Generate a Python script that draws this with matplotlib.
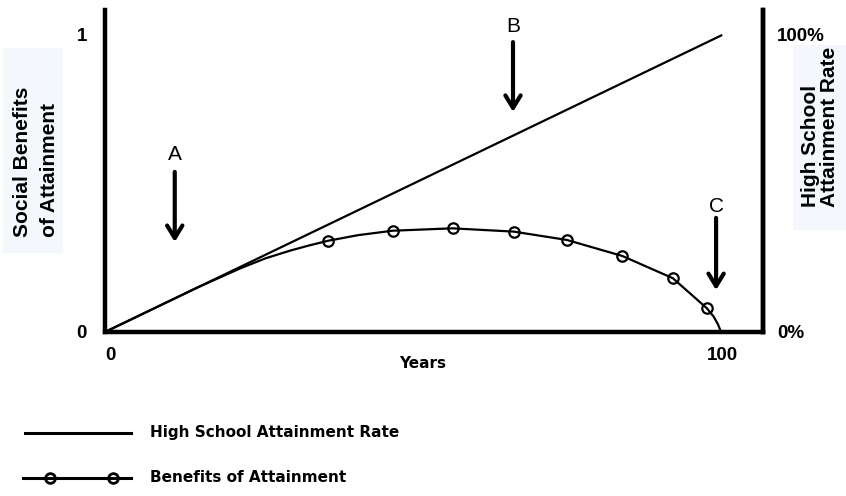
import matplotlib
matplotlib.use("Agg")
import matplotlib.pyplot as plt
from matplotlib.lines import Line2D
from matplotlib.patches import Rectangle
import matplotlib.transforms as mtransforms

# ---- data ----
rate_years = [0, 100]
rate_values = [0.0, 1.0]

benefit_years = [0, 15, 22, 26, 30, 33, 36.1, 41, 46.6, 56.3, 66.2, 74.8, 83.8,
                 92.0, 97.5, 98.6, 99.3, 99.8]
benefit_values = [0.0, 0.15, 0.215, 0.248, 0.274, 0.291, 0.307, 0.326, 0.341, 0.349,
                  0.338, 0.310, 0.256, 0.181, 0.080, 0.052, 0.026, 0.0]

marker_years = [36.1, 46.6, 56.3, 66.2, 74.8, 83.8, 92.0, 97.5]
marker_values = [0.307, 0.341, 0.349, 0.338, 0.310, 0.256, 0.181, 0.080]

x_ticks = [0, 100]
x_tick_labels = ["0", "100"]
left_ticks = [0, 1]
left_tick_labels = ["0", "1"]
right_tick_labels = ["0%", "100%"]

arrow_labels = ["A", "B", "C"]
arrow_x = [11.3, 66.1, 99.0]
arrow_top = [0.539, 0.976, 0.384]
arrow_tip = [0.303, 0.741, 0.141]
label_y = [0.596, 1.027, 0.421]

legend_labels = ["High School Attainment Rate", "Benefits of Attainment"]

# ---- figure ----
W, H = 846, 496
fig = plt.figure(figsize=(W / 100, H / 100), dpi=100)
fig.patch.set_facecolor("white")

# overlay for backgrounds & legend (pixel coordinates)
lax = fig.add_axes([0, 0, 1, 1], zorder=0)
lax.set_xlim(0, W)
lax.set_ylim(H, 0)
lax.axis("off")
lax.add_patch(Rectangle((3, 48), 60, 205, facecolor="#f4f8fc", edgecolor="none"))
lax.add_patch(Rectangle((793, 45), 53, 185, facecolor="#f4f8fc", edgecolor="none"))

ax = fig.add_axes([105 / W, 1 - 332 / H, (763 - 105) / W, (332 - 10) / H], zorder=1)
ax.patch.set_alpha(0)
ax.set_xlim(0, 106.6)
ax.set_ylim(0, 1.084)

ax.plot(rate_years, rate_values, color="black", lw=1.6, solid_capstyle="butt")
ax.plot(benefit_years, benefit_values, color="black", lw=1.6)
ax.plot(marker_years, marker_values, ls="none", marker="o", ms=7.5,
        mfc="none", mec="black", mew=1.6)

for s in ["left", "bottom", "right"]:
    ax.spines[s].set_linewidth(3.2)
ax.spines["top"].set_visible(False)

bold = dict(family="Liberation Sans", weight="bold", size=13.5)

ax.set_xticks(x_ticks)
ax.set_xticklabels(x_tick_labels, **bold)
ax.set_yticks(left_ticks)
ax.set_yticklabels(left_tick_labels, **bold)
ax.tick_params(axis="both", length=0)
ax.tick_params(axis="x", pad=11)
ax.tick_params(axis="y", pad=13)
# first x tick label sits slightly right of the origin
first = ax.get_xticklabels()[0]
first.set_transform(first.get_transform() +
                    mtransforms.ScaledTranslation(5 / 100, 0, fig.dpi_scale_trans))

ax2 = ax.twinx()
ax2.set_ylim(ax.get_ylim())
ax2.set_yticks(left_ticks)
ax2.set_yticklabels(right_tick_labels, **bold)
ax2.tick_params(axis="y", length=0, pad=10)
for s in ["top", "left", "bottom"]:
    ax2.spines[s].set_visible(False)
ax2.spines["right"].set_linewidth(3.2)

ax.set_xlabel("Years", family="DejaVu Sans", weight="bold", size=11)
ax.xaxis.set_label_coords((423 - 105) / (763 - 105), -(363 - 332) / (332 - 10))
ax.xaxis.label.set_va("center")

for lab, x, yt, yb, yl in zip(arrow_labels, arrow_x, arrow_top, arrow_tip, label_y):
    ax.annotate("", xy=(x, yb), xytext=(x, yt),
                arrowprops=dict(arrowstyle="->,head_length=0.9,head_width=0.55",
                                lw=3, color="black", shrinkA=0, shrinkB=0))
    ax.text(x, yl, lab, ha="center", va="center", family="Liberation Sans",
            size=15, color="black")

# y labels
fig.text(36 / W, 1 - 237 / H, "Social Benefits\nof Attainment", rotation=90,
         ha="center", va="bottom", ma="left", linespacing=1.55,
         family="Liberation Sans", weight="bold", size=15)
fig.text(820 / W, 1 - 207 / H, "High School\nAttainment Rate", rotation=90,
         ha="center", va="bottom", ma="left", linespacing=0.95,
         family="Liberation Sans", weight="bold", size=15)

# ---- legend (manual) ----
lax2 = fig.add_axes([0, 0, 1, 1], zorder=2)
lax2.set_xlim(0, W)
lax2.set_ylim(H, 0)
lax2.axis("off")
lax2.add_line(Line2D([25, 131], [433, 433], color="black", lw=2.2))
lax2.add_line(Line2D([23, 131], [478, 478], color="black", lw=2.2))
lax2.add_line(Line2D([50, 113], [478, 478], ls="none", marker="o", ms=7,
                     mfc="none", mec="black", mew=2))
lax2.text(150, 433, legend_labels[0], ha="left", va="center",
          family="DejaVu Sans", weight="bold", size=11)
lax2.text(150, 478, legend_labels[1], ha="left", va="center",
          family="DejaVu Sans", weight="bold", size=11)

fig.savefig("out.png", dpi=100, facecolor="white")
